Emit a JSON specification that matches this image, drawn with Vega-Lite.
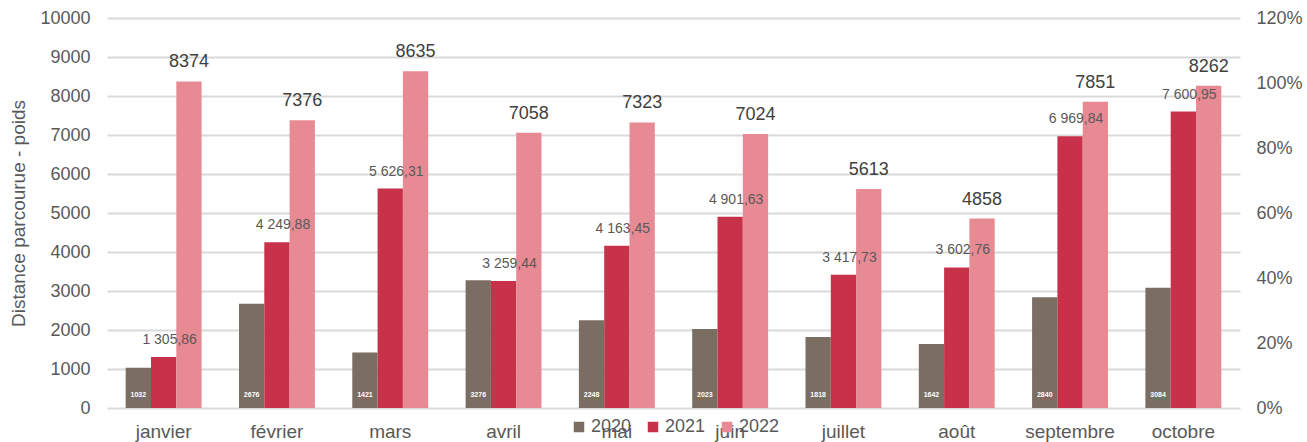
{
  "$schema": "https://vega.github.io/schema/vega-lite/v6.json",
  "width": 1133,
  "height": 390,
  "autosize": "none",
  "padding": {"left": 107, "top": 18, "right": 67, "bottom": 34},
  "background": "white",
  "config": {
    "font": "Liberation Sans",
    "view": {"stroke": null},
    "locale": {"number": {"decimal": ",", "thousands": " ", "grouping": [3], "currency": ["", " €"]}}
  },
  "data": {
    "values": [
      {"mois": "janvier", "annee": "2020", "valeur": 1032},
      {"mois": "janvier", "annee": "2021", "valeur": 1305.86},
      {"mois": "janvier", "annee": "2022", "valeur": 8374},
      {"mois": "février", "annee": "2020", "valeur": 2676},
      {"mois": "février", "annee": "2021", "valeur": 4249.88},
      {"mois": "février", "annee": "2022", "valeur": 7376},
      {"mois": "mars", "annee": "2020", "valeur": 1421},
      {"mois": "mars", "annee": "2021", "valeur": 5626.31},
      {"mois": "mars", "annee": "2022", "valeur": 8635},
      {"mois": "avril", "annee": "2020", "valeur": 3276},
      {"mois": "avril", "annee": "2021", "valeur": 3259.44},
      {"mois": "avril", "annee": "2022", "valeur": 7058},
      {"mois": "mai", "annee": "2020", "valeur": 2248},
      {"mois": "mai", "annee": "2021", "valeur": 4163.45},
      {"mois": "mai", "annee": "2022", "valeur": 7323},
      {"mois": "juin", "annee": "2020", "valeur": 2023},
      {"mois": "juin", "annee": "2021", "valeur": 4901.63},
      {"mois": "juin", "annee": "2022", "valeur": 7024},
      {"mois": "juillet", "annee": "2020", "valeur": 1818},
      {"mois": "juillet", "annee": "2021", "valeur": 3417.73},
      {"mois": "juillet", "annee": "2022", "valeur": 5613},
      {"mois": "août", "annee": "2020", "valeur": 1642},
      {"mois": "août", "annee": "2021", "valeur": 3602.76},
      {"mois": "août", "annee": "2022", "valeur": 4858},
      {"mois": "septembre", "annee": "2020", "valeur": 2840},
      {"mois": "septembre", "annee": "2021", "valeur": 6969.84},
      {"mois": "septembre", "annee": "2022", "valeur": 7851},
      {"mois": "octobre", "annee": "2020", "valeur": 3084},
      {"mois": "octobre", "annee": "2021", "valeur": 7600.95},
      {"mois": "octobre", "annee": "2022", "valeur": 8262}
    ]
  },
  "encoding": {
    "x": {
      "field": "mois", "type": "nominal", "sort": null,
      "scale": {"paddingInner": 0.33, "paddingOuter": 0.165},
      "axis": {"title": null, "labelAngle": 0, "labelFontSize": 19, "labelColor": "#595959", "domain": false, "ticks": false, "labelPadding": 14}
    },
    "xOffset": {"field": "annee", "type": "nominal", "scale": {"paddingInner": 0, "paddingOuter": 0}}
  },
  "layer": [
    {
      "mark": {"type": "bar"},
      "encoding": {
        "y": {
          "field": "valeur", "type": "quantitative",
          "scale": {"domain": [0, 10000], "nice": false},
          "axis": {
            "title": "Distance parcourue - poids", "titleFontSize": 19, "titleFontWeight": "normal", "titleColor": "#595959", "titlePadding": 11,
            "values": [0, 1000, 2000, 3000, 4000, 5000, 6000, 7000, 8000, 9000, 10000],
            "format": "d", "labelFontSize": 18, "labelColor": "#595959", "labelPadding": 17,
            "grid": true, "gridColor": "#d9d9d9", "gridWidth": 2, "ticks": false, "domain": false
          }
        },
        "color": {
          "field": "annee", "type": "nominal",
          "scale": {"domain": ["2020", "2021", "2022"], "range": ["#7a6e62", "#c7314a", "#e88a94"]},
          "legend": {
            "title": null, "orient": "none", "legendX": 463, "legendY": 400, "direction": "horizontal",
            "symbolType": "square", "symbolSize": 110, "symbolStrokeWidth": 0, "labelFontSize": 18, "labelColor": "#595959",
            "columnPadding": 12, "labelOffset": 3
          }
        }
      }
    },
    {
      "transform": [{"filter": "datum.annee == '2020'"}],
      "mark": {"type": "text", "color": "white", "fontSize": 7, "fontWeight": "bold", "baseline": "middle"},
      "encoding": {
        "y": {"datum": 330, "type": "quantitative", "axis": null},
        "text": {"field": "valeur", "type": "quantitative", "format": "d"}
      }
    },
    {
      "transform": [{"filter": "datum.annee == '2021'"}],
      "mark": {"type": "text", "color": "#595959", "fontSize": 14, "baseline": "middle", "dy": -17, "dx": 6},
      "encoding": {
        "y": {"field": "valeur", "type": "quantitative", "axis": null},
        "text": {"field": "valeur", "type": "quantitative", "format": ",.2f"}
      }
    },
    {
      "transform": [{"filter": "datum.annee == '2022'"}],
      "mark": {"type": "text", "color": "#404040", "fontSize": 18, "baseline": "middle", "dy": -19},
      "encoding": {
        "y": {
          "field": "valeur", "type": "quantitative",
          "axis": {
            "orient": "right", "title": null, "grid": false, "ticks": false, "domain": false,
            "values": [0, 1666.6667, 3333.3333, 5000, 6666.6667, 8333.3333, 10000],
            "labelExpr": "format(datum.value * 1.2 / 10000, '.0%')",
            "labelFontSize": 18, "labelColor": "#595959", "labelPadding": 16
          }
        },
        "text": {"field": "valeur", "type": "quantitative", "format": "d"}
      }
    }
  ],
  "resolve": {"axis": {"y": "independent"}}
}
